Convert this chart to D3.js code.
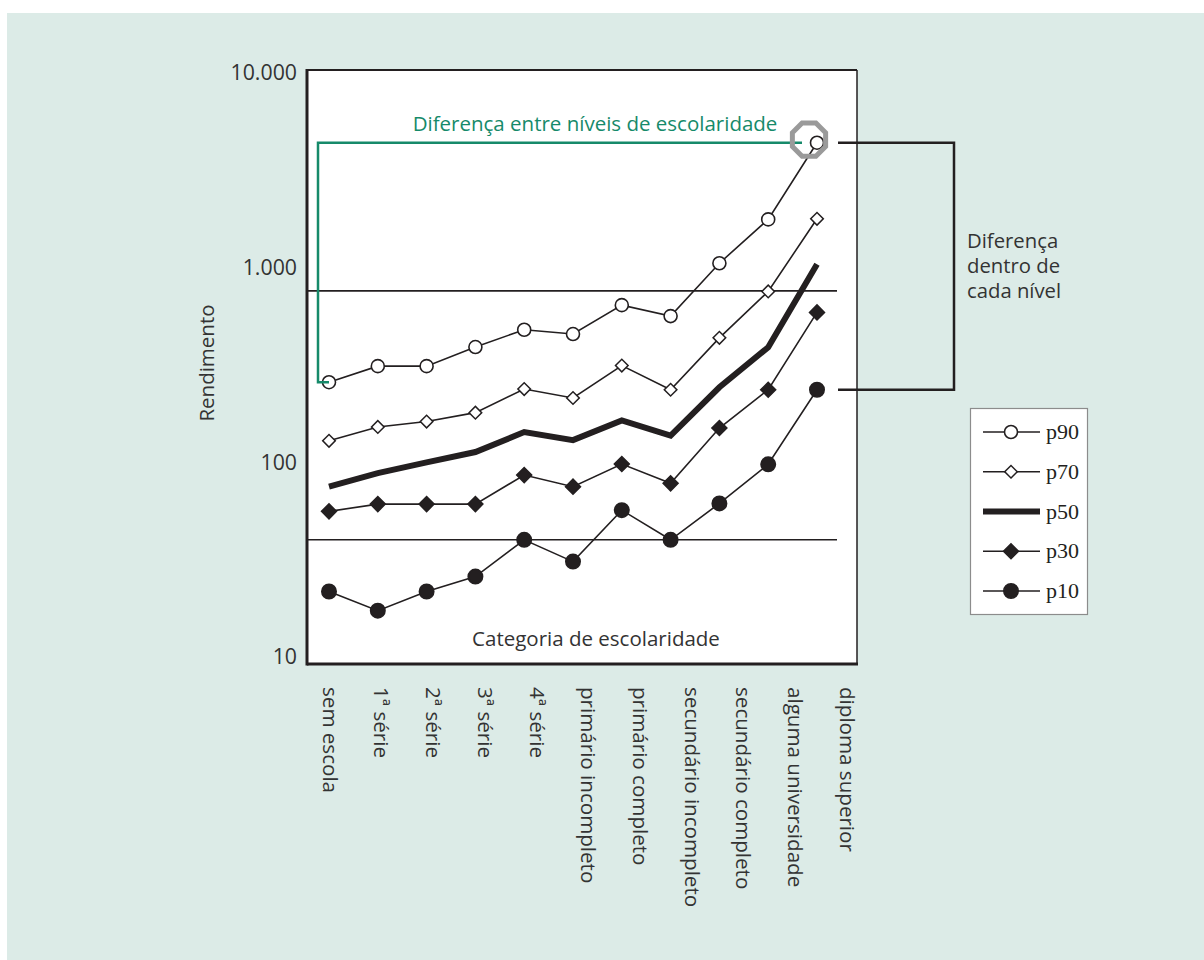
<!DOCTYPE html>
<html>
<head>
  <meta charset="utf-8">
  <title>Rendimento por escolaridade</title>
  <style>
    body { margin: 0; background: #fff; }
    text { font-family: "Open Sans", "Noto Sans", sans-serif; }
  </style>
</head>
<body>
  <script src="https://d3js.org/d3.v7.min.js"></script>
  <script>
    // categorias de escolaridade
    var categories = ["sem escola", "1ª série", "2ª série", "3ª série", "4ª série",
      "primário incompleto", "primário completo", "secundário incompleto",
      "secundário completo", "alguma universidade", "diploma superior"];

    // percentis do rendimento
    var p90 = [258, 312, 312, 391, 480, 456, 642, 564, 1054, 1770, 4385];
    var p70 = [129, 152, 162, 180, 238, 214, 314, 236, 436, 755, 1783];
    var p50 = [75, 88, 100, 113, 143, 130, 164, 137, 243, 390, 1040];
    var p30 = [56, 61, 61, 61, 86, 75, 98, 78, 150, 236, 589];
    var p10 = [21.7, 17.3, 21.7, 25.9, 40, 30.9, 56.8, 40, 61.5, 97.7, 236];

    var yTicks = [10, 100, 1000, 10000];
    var yTickLabels = ["10", "100", "1.000", "10.000"];
    var refLines = [760, 40];

    var width = 1204;
    var height = 960;
    var ink = "#231f20";
    var green = "#168a6a";

    var svg = d3.select("body").append("svg")
      .attr("width", width).attr("height", height);

    svg.append("rect").attr("x", 7).attr("y", 13)
      .attr("width", width - 7).attr("height", height - 13)
      .attr("fill", "#dcebe7");

    // area do grafico
    var pLeft = 307, pRight = 857, pTop = 70, pBottom = 664;
    svg.append("rect").attr("x", pLeft).attr("y", pTop)
      .attr("width", pRight - pLeft).attr("height", pBottom - pTop)
      .attr("fill", "#fff");

    var x = d3.scalePoint().domain(categories).range([329, 817]);
    var xLabel = d3.scalePoint().domain(categories).range([330, 847]);
    var y = d3.scaleLog().domain([10, 10000]).range([657, 73]);

    var g = svg.append("g");

    // linhas de referencia
    g.selectAll(".ref").data(refLines).enter().append("line")
      .attr("x1", pLeft).attr("x2", 837)
      .attr("y1", function(d) { return y(d); })
      .attr("y2", function(d) { return y(d); })
      .attr("stroke", ink).attr("stroke-width", 1.6);

    // moldura
    svg.append("line").attr("x1", pLeft).attr("x2", pRight).attr("y1", pTop).attr("y2", pTop)
      .attr("stroke", ink).attr("stroke-width", 2);
    svg.append("line").attr("x1", pRight).attr("x2", pRight).attr("y1", pTop).attr("y2", pBottom)
      .attr("stroke", ink).attr("stroke-width", 1.5);
    svg.append("line").attr("x1", pLeft).attr("x2", pLeft).attr("y1", pTop - 1).attr("y2", pBottom + 1.5)
      .attr("stroke", ink).attr("stroke-width", 3);
    svg.append("line").attr("x1", pLeft).attr("x2", pRight + 1).attr("y1", pBottom).attr("y2", pBottom)
      .attr("stroke", ink).attr("stroke-width", 3);

    // eixo y
    var yAxis = svg.append("g")
      .attr("transform", "translate(" + pLeft + ",0)")
      .call(d3.axisLeft(y).tickValues(yTicks)
        .tickFormat(function(d, i) { return yTickLabels[i]; })
        .tickSize(0).tickPadding(10));
    yAxis.select(".domain").remove();
    yAxis.selectAll("text")
      .style("font-family", "'Open Sans', sans-serif")
      .style("font-size", "21.3px").attr("fill", "#333");

    svg.append("text")
      .attr("transform", "translate(214,363) rotate(-90)")
      .attr("text-anchor", "middle")
      .style("font-size", "20.5px").attr("fill", "#333")
      .text("Rendimento");

    // rotulos das categorias
    svg.selectAll(".cat").data(categories).enter().append("text")
      .attr("class", "cat")
      .attr("transform", function(d) { return "translate(" + xLabel(d) + ",687) rotate(90)"; })
      .attr("dy", "0.35em")
      .style("font-size", "20.6px").attr("fill", "#333")
      .text(function(d) { return d; });

    svg.append("text")
      .attr("x", 596).attr("y", 646)
      .attr("text-anchor", "middle")
      .style("font-size", "20.5px").attr("fill", "#333")
      .text("Categoria de escolaridade");

    // anotacao: diferenca entre niveis
    var last = categories.length - 1;
    var gx = x(categories[0]) - 11;
    var gTop = y(p90[last]);
    var gBot = y(p90[0]);
    svg.append("path")
      .attr("d", "M" + x(categories[0]) + "," + gBot + "H" + gx + "V" + gTop + "H" + (x(categories[last]) - 15))
      .attr("fill", "none").attr("stroke", green).attr("stroke-width", 2.5);
    svg.append("text")
      .attr("x", 595).attr("y", 131)
      .attr("text-anchor", "middle")
      .style("font-size", "20.5px").attr("fill", green)
      .text("Diferença entre níveis de escolaridade");

    // series
    var series = [
      { name: "p90", values: p90, marker: "circle", fill: "#fff", r: 6.5, lw: 1.6 },
      { name: "p70", values: p70, marker: "diamond", fill: "#fff", r: 6.3, lw: 1.6 },
      { name: "p50", values: p50, marker: "none", fill: "none", r: 0, lw: 6 },
      { name: "p30", values: p30, marker: "diamond", fill: ink, r: 7.5, lw: 1.6 },
      { name: "p10", values: p10, marker: "circle", fill: ink, r: 7.2, lw: 1.6 }
    ];

    var line = d3.line()
      .x(function(d, i) { return x(categories[i]); })
      .y(function(d) { return y(d); });

    function drawMarker(sel, s) {
      if (s.marker === "circle") {
        sel.append("circle").attr("r", s.r)
          .attr("fill", s.fill).attr("stroke", ink).attr("stroke-width", 1.6);
      } else if (s.marker === "diamond") {
        var side = s.r * Math.SQRT2;
        sel.append("path")
          .attr("d", d3.symbol().type(d3.symbolSquare).size(side * side)())
          .attr("transform", "rotate(45)")
          .attr("fill", s.fill).attr("stroke", ink).attr("stroke-width", 1.5);
      }
    }

    series.forEach(function(s) {
      g.append("path").datum(s.values)
        .attr("d", line)
        .attr("fill", "none").attr("stroke", ink)
        .attr("stroke-width", s.lw).attr("stroke-linejoin", "miter");
      if (s.marker !== "none") {
        g.selectAll(".m-" + s.name).data(s.values).enter().append("g")
          .attr("transform", function(d, i) { return "translate(" + x(categories[i]) + "," + y(d) + ")"; })
          .each(function() { drawMarker(d3.select(this), s); });
      }
    });

    // octogono cinza no p90 do diploma superior
    var oct = d3.range(8).map(function(k) {
      var a = Math.PI / 8 + k * Math.PI / 4;
      return [Math.cos(a) * 18, Math.sin(a) * 18];
    });
    svg.append("path")
      .attr("transform", "translate(" + (x(categories[last]) - 8) + "," + (gTop - 3) + ")")
      .attr("d", d3.line()(oct) + "Z")
      .attr("fill", "none").attr("stroke", "#9a9a9a").attr("stroke-width", 5);

    // anotacao: diferenca dentro de cada nivel
    var bTop = y(p90[last]);
    var bBot = y(p10[last]);
    svg.append("path")
      .attr("d", "M838," + bTop + "H954V" + bBot + "H838")
      .attr("fill", "none").attr("stroke", ink).attr("stroke-width", 2.5);
    var note = svg.append("text").attr("x", 967).attr("y", 248)
      .style("font-size", "20.3px").attr("fill", "#333");
    ["Diferença", "dentro de", "cada nível"].forEach(function(t, i) {
      note.append("tspan").attr("x", 967).attr("dy", i === 0 ? 0 : 25).text(t);
    });

    // legenda
    var legend = svg.append("g");
    legend.append("rect").attr("x", 970.5).attr("y", 408.5)
      .attr("width", 117).attr("height", 206)
      .attr("fill", "#fff").attr("stroke", "#8c8c8c").attr("stroke-width", 1.2);
    var rowY = d3.scalePoint().domain(series.map(function(s) { return s.name; })).range([432, 591]);
    series.forEach(function(s) {
      var row = legend.append("g").attr("transform", "translate(0," + rowY(s.name) + ")");
      row.append("line").attr("x1", 983).attr("x2", 1040)
        .attr("stroke", ink).attr("stroke-width", s.lw);
      var m = row.append("g").attr("transform", "translate(1011,0)");
      drawMarker(m, s);
      row.append("text").attr("x", 1046).attr("y", 7)
        .style("font-family", "'Liberation Serif', 'Times New Roman', serif")
        .style("font-size", "22px").attr("fill", ink)
        .text(s.name);
    });
  </script>
</body>
</html>
